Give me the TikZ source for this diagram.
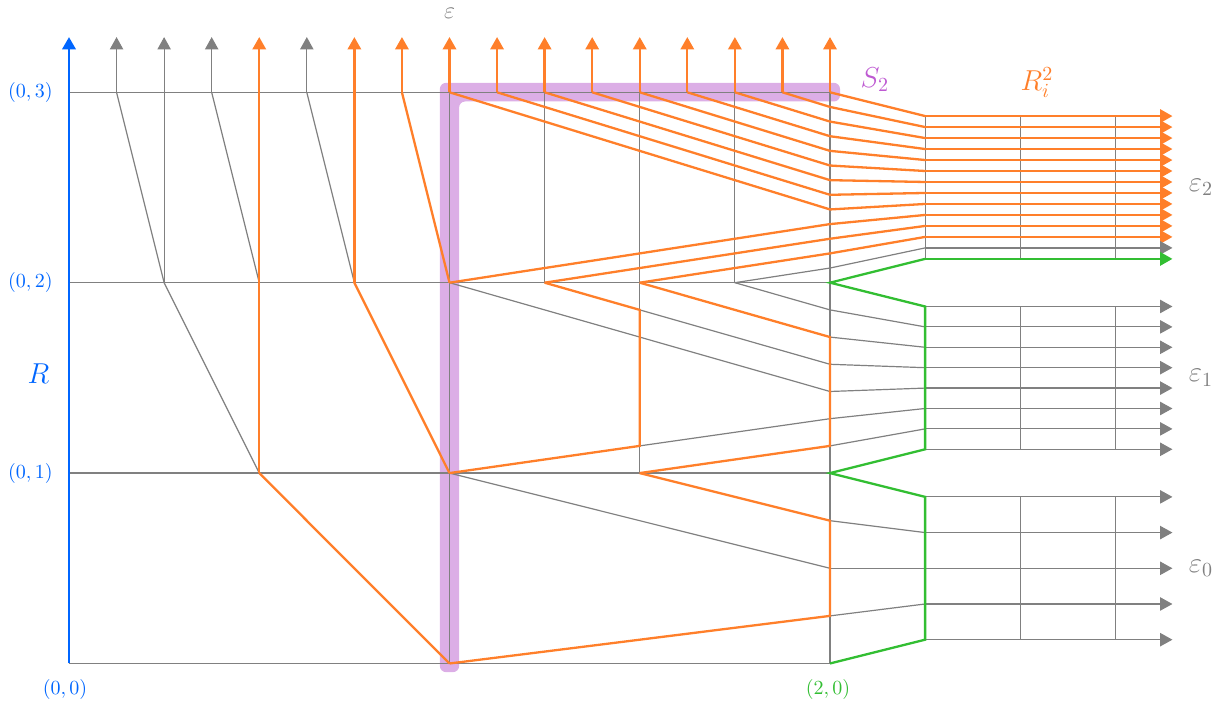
\documentclass[tikz,border=0pt]{standalone}
\usetikzlibrary{arrows.meta}
\definecolor{cgray}{RGB}{128,128,128}
\definecolor{corange}{RGB}{255,127,42}
\definecolor{cgreen}{RGB}{50,190,50}
\definecolor{cblue}{RGB}{0,102,255}
\definecolor{cband}{RGB}{220,174,230}
\definecolor{cpurple}{RGB}{190,90,210}
\begin{document}
\begin{tikzpicture}[x=190.25pt,y=95.2pt,
  gline/.style={draw=cgray,line width=0.6pt},
  oline/.style={draw=corange,line width=1.15pt},
  grline/.style={draw=cgreen,line width=1.15pt},
  bline/.style={draw=cblue,line width=1.4pt},
  arr/.style={-{Triangle[length=6.2pt,width=6.7pt]}},
  lbl/.style={inner sep=0pt}
]
\useasboundingbox (-34.5pt,-20.75pt) rectangle (579.5pt,331.75pt);

% highlight band S_2
\fill[cband,rounded corners=3pt] ([xshift=-4.8pt,yshift=-4.3pt]1,0) -- ([xshift=-4.8pt,yshift=4.7pt]1,3) -- ([xshift=5pt,yshift=4.7pt]2,3) -- ([xshift=5pt,yshift=-4.6pt]2,3) -- ([xshift=4.8pt,yshift=-4.6pt]1,3) -- ([xshift=4.8pt,yshift=-4.3pt]1,0) -- cycle;

% gray grid
\foreach \j in {0,...,3} \draw[gline] (0,\j) -- (2,\j);
\draw[gline] (1,0)--(1,3);
\draw[gline] (2,0)--(2,3);
\draw[gline] (1.5,1)--(1.5,3);
\draw[gline] (1.25,2)--(1.25,3);
\draw[gline] (1.75,2)--(1.75,3);

% left gray diagonals and arrows
\draw[gline] (0.125,3)--(0.25,2)--(0.5,1);
\draw[gline] (0.375,3)--(0.5,2);
\draw[gline] (0.625,3)--(0.75,2);
\draw[gline,arr] (0.125,3)--(0.125,3.29);
\draw[gline,arr] (0.25,2)--(0.25,3.29);
\draw[gline,arr] (0.375,3)--(0.375,3.29);
\draw[gline,arr] (0.625,3)--(0.625,3.29);

% gray middle lines
\draw[gline] (1.75,2)--(2,{3-12/13});
\draw[gline] (1.75,2)--(2,{2-1/7});
\draw[gline] (1.5,{2-1/7})--(2,{2-3/7});
\draw[gline] (1,2)--(2,{2-4/7});
\draw[gline] (1.5,{1+1/7})--(2,{2-5/7});
\draw[gline] (1,1)--(2,0.5);

% right blocks: verticals
\foreach \x in {2.25,2.5,2.75} {
  \draw[gline] (\x,2.125)--(\x,2.875);
  \draw[gline] (\x,1.125)--(\x,1.875);
  \draw[gline] (\x,0.125)--(\x,0.875);
}
% middle block
\foreach \k in {1,...,6} \draw[gline] (2,{2-\k/7})--(2.25,{1.875-\k*0.75/7});
\foreach \k in {0,...,7} \draw[gline,arr] (2.25,{1.875-\k*0.75/7})--(2.9,{1.875-\k*0.75/7});
% bottom block
\foreach \k in {1,2,3} \draw[gline] (2,{1-\k/4})--(2.25,{0.875-\k*0.1875});
\foreach \k in {0,...,4} \draw[gline,arr] (2.25,{0.875-\k*0.1875})--(2.9,{0.875-\k*0.1875});

% orange left
\draw[oline,arr] (0.5,1)--(0.5,3.29);
\draw[oline,arr] (0.75,2)--(0.75,3.29);
\draw[oline,arr] (0.875,3)--(0.875,3.29);
\foreach \j in {0,...,8} \draw[oline,arr] ({1+\j/8},3)--({1+\j/8},3.29);
\draw[oline] (0.875,3)--(1,2);
\draw[oline] (0.75,2)--(1,1);
\draw[oline] (0.5,1)--(1,0);

% orange upper fan
\foreach \j in {0,...,7} \draw[oline] ({1+\j/8},3)--(2,{3-(8-\j)/13});
\draw[oline] (1,2)--(2,{3-9/13});
\draw[oline] (1.25,2)--(2,{3-10/13});
\draw[oline] (1.5,2)--(2,{3-11/13});

% orange middle and bottom
\draw[oline] (1.25,2)--(1.5,{2-1/7})--(1.5,{1+1/7})--(1,1);
\draw[oline] (1.5,2)--(2,{2-2/7})--(2,{1+1/7})--(1.5,1);
\draw[oline] (1.5,1)--(2,0.75)--(2,0.25)--(1,0);

% top right block
\foreach \k in {0,...,11} {
  \draw[oline] (2,{3-\k/13})--(2.25,{2.875-\k*0.75/13});
  \draw[oline,arr] (2.25,{2.875-\k*0.75/13})--(2.9,{2.875-\k*0.75/13});
}
\draw[gline] (2,{3-12/13})--(2.25,{2.875-12*0.75/13});
\draw[gline,arr] (2.25,{2.875-12*0.75/13})--(2.9,{2.875-12*0.75/13});

% green boundary
\draw[grline] (2.25,2.125)--(2,2)--(2.25,1.875)--(2.25,1.125)--(2,1)--(2.25,0.875)--(2.25,0.125)--(2,0);
\draw[grline,arr] (2.25,2.125)--(2.9,2.125);

% blue axis
\draw[bline,arr] (0,0)--(0,3.29);

% labels
\node[lbl,text=cblue,anchor=east] (l3) at ([xshift=-8pt]0,3) {$(0,3)$};
\node[lbl,text=cblue,anchor=east] (l2) at ([xshift=-8pt]0,2) {$(0,2)$};
\node[lbl,text=cblue,anchor=east] (l1) at ([xshift=-8pt]0,1) {$(0,1)$};
\node[lbl,text=cblue] (l0) at ([xshift=-2pt,yshift=-13.25pt]0,0) {$(0,0)$};
\node[lbl,text=cgreen] (l20) at ([xshift=-1pt,yshift=-13.25pt]2,0) {$(2,0)$};
\node[lbl,text=cblue,font=\Large] (R) at (-0.08,1.52) {$R$};
\node[lbl,text=cgray,font=\large] (eps) at (1,3.415) {$\varepsilon$};
\node[lbl,text=cpurple,font=\Large] (S2) at (2.118,3.065) {$S_2$};
\node[lbl,text=corange,font=\Large] (Ri) at (2.544,3.05) {$R_i^2$};
\node[lbl,text=cgray,font=\Large] (e2) at (2.975,2.5) {$\varepsilon_2$};
\node[lbl,text=cgray,font=\Large] (e1) at (2.975,1.5) {$\varepsilon_1$};
\node[lbl,text=cgray,font=\Large] (e0) at (2.975,0.5) {$\varepsilon_0$};
\end{tikzpicture}
\end{document}
